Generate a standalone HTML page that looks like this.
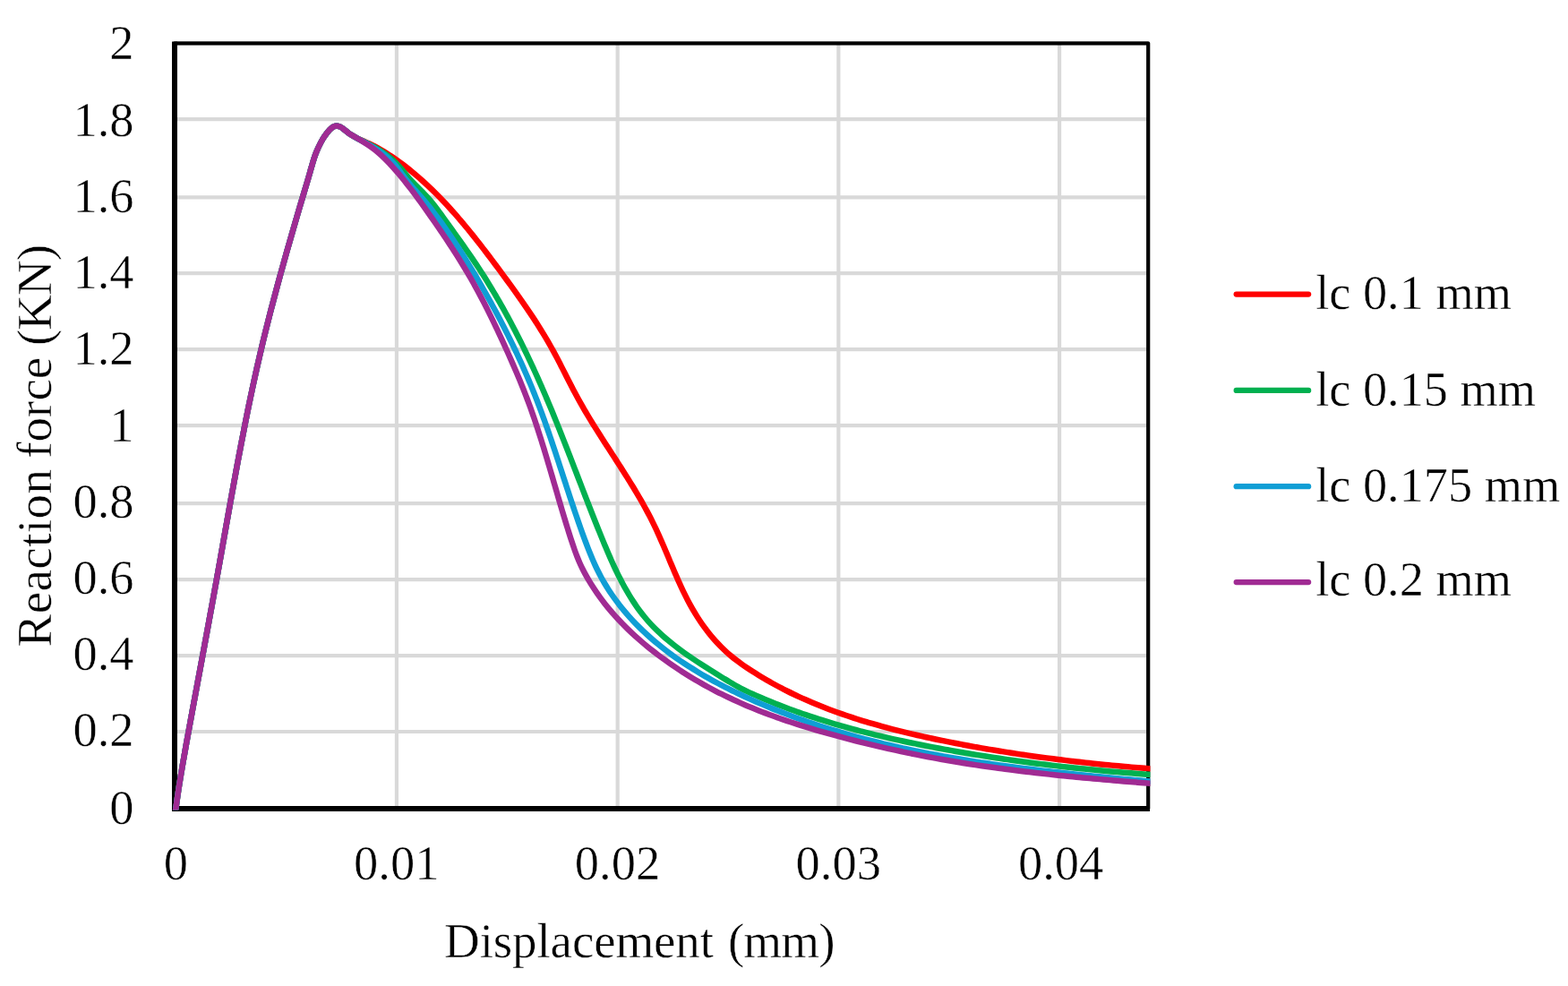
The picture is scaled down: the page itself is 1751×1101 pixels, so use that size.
<!DOCTYPE html>
<html lang="en">
<head>
<meta charset="utf-8">
<title>Reaction force vs displacement</title>
<style>
html,body{margin:0;padding:0;background:#fff;}
body{width:1751px;height:1101px;overflow:hidden;}
svg{display:block;font-family:"Liberation Serif",serif;fill:#000;}
text{stroke:#fff;stroke-width:0.5px;}
.tick{font-size:54.5px;}
.title{font-size:55px;}
.leg{font-size:54.3px;}
.grid line{stroke:#D9D9D9;stroke-width:4.2;}
.curve path{fill:none;stroke-width:6.5;stroke-linejoin:round;stroke-linecap:round;}
.key line{stroke-width:6.3;stroke-linecap:round;}
</style>
</head>
<body>
<svg width="1751" height="1101" viewBox="0 0 1751 1101">
<rect x="0" y="0" width="1751" height="1101" fill="#fff"/>
<defs><clipPath id="plot"><rect x="192" y="40" width="1092.5" height="864.4"/></clipPath></defs>

<g class="grid">
<line x1="195.0" y1="817.00" x2="1282.2" y2="817.00"/>
<line x1="195.0" y1="732.06" x2="1282.2" y2="732.06"/>
<line x1="195.0" y1="647.10" x2="1282.2" y2="647.10"/>
<line x1="195.0" y1="562.20" x2="1282.2" y2="562.20"/>
<line x1="195.0" y1="475.10" x2="1282.2" y2="475.10"/>
<line x1="195.0" y1="390.15" x2="1282.2" y2="390.15"/>
<line x1="195.0" y1="305.20" x2="1282.2" y2="305.20"/>
<line x1="195.0" y1="220.35" x2="1282.2" y2="220.35"/>
<line x1="195.0" y1="133.15" x2="1282.2" y2="133.15"/>
<line x1="442.94" y1="48.3" x2="442.94" y2="903.0"/>
<line x1="689.65" y1="48.3" x2="689.65" y2="903.0"/>
<line x1="936.35" y1="48.3" x2="936.35" y2="903.0"/>
<line x1="1183.06" y1="48.3" x2="1183.06" y2="903.0"/>
</g>
<rect x="195.00" y="48.30" width="1087.20" height="854.70" fill="none" stroke="#000" stroke-width="4.2" stroke-linejoin="round"/>
<line x1="195.00" y1="46.60" x2="195.00" y2="905.90" stroke="#000" stroke-width="6"/>
<line x1="192.50" y1="902.90" x2="1284.00" y2="902.90" stroke="#000" stroke-width="6"/>
<g class="curve" clip-path="url(#plot)">
<path stroke="#FF0000" d="M195.84 906.50C197.07 897.94 198.21 889.36 199.52 880.82C200.83 872.27 202.25 863.74 203.70 855.21C205.16 846.68 206.69 838.17 208.22 829.66C209.76 821.15 211.33 812.64 212.89 804.13C214.46 795.62 216.03 787.12 217.61 778.61C219.19 770.11 220.77 761.61 222.35 753.10C223.93 744.60 225.52 736.10 227.10 727.59C228.68 719.09 230.26 710.58 231.83 702.08C233.41 693.57 234.98 685.07 236.53 676.56C238.09 668.05 239.64 659.54 241.18 651.03C242.72 642.51 244.25 634.00 245.77 625.48C247.29 616.96 248.80 608.44 250.31 599.93C251.83 591.41 253.34 582.89 254.86 574.37C256.38 565.86 257.90 557.34 259.45 548.83C260.99 540.32 262.54 531.81 264.12 523.30C265.70 514.80 267.30 506.30 268.93 497.81C270.55 489.31 272.20 480.82 273.90 472.34C275.59 463.87 277.31 455.39 279.08 446.93C280.84 438.47 282.65 430.01 284.50 421.57C286.36 413.13 288.26 404.69 290.23 396.28C292.19 387.85 294.21 379.45 296.28 371.05C298.34 362.65 300.47 354.27 302.64 345.90C304.80 337.52 307.02 329.16 309.27 320.81C311.52 312.46 313.82 304.11 316.14 295.78C318.46 287.44 320.82 279.12 323.20 270.80C325.57 262.48 327.98 254.17 330.41 245.86C332.83 237.56 335.28 229.26 337.73 220.97C340.18 212.67 342.73 204.41 345.12 196.10C346.09 192.74 347.00 189.35 348.00 186.00C349.47 181.07 350.82 176.08 352.70 171.30C354.31 167.21 356.11 163.16 358.20 159.30C359.70 156.53 361.30 153.78 363.10 151.20C364.50 149.20 365.90 147.15 367.60 145.40C368.83 144.14 370.08 142.75 371.60 141.90C372.90 141.17 374.45 140.42 375.90 140.40C377.26 140.38 378.73 141.01 380.00 141.60C381.46 142.28 382.70 143.43 384.00 144.40C385.37 145.42 386.64 146.57 388.00 147.60C389.37 148.64 390.76 149.67 392.20 150.60C394.03 151.78 395.97 152.79 397.90 153.80C400.30 155.05 402.79 156.15 405.25 157.29C407.47 158.32 409.73 159.27 411.94 160.31C414.16 161.34 416.36 162.39 418.54 163.51C420.70 164.62 422.84 165.79 424.95 167.00C427.06 168.21 429.14 169.47 431.20 170.76C433.26 172.05 435.30 173.39 437.31 174.74C439.33 176.10 441.32 177.49 443.29 178.90C445.27 180.31 447.22 181.75 449.16 183.20C451.10 184.66 453.02 186.14 454.92 187.64C456.83 189.15 458.71 190.67 460.58 192.21C462.45 193.76 464.30 195.32 466.14 196.91C467.97 198.49 469.79 200.10 471.60 201.72C473.40 203.34 475.19 204.99 476.97 206.64C478.74 208.30 480.50 209.98 482.25 211.67C483.99 213.37 485.72 215.08 487.44 216.80C489.16 218.53 490.86 220.27 492.55 222.03C494.25 223.79 495.93 225.56 497.59 227.34C499.26 229.13 500.91 230.93 502.55 232.74C504.20 234.55 505.83 236.37 507.45 238.21C509.07 240.04 510.68 241.89 512.28 243.75C513.88 245.61 515.47 247.47 517.05 249.35C518.63 251.23 520.20 253.12 521.76 255.01C523.32 256.91 524.87 258.82 526.41 260.73C527.96 262.64 529.49 264.56 531.02 266.49C532.55 268.42 534.06 270.35 535.58 272.29C537.09 274.23 538.60 276.17 540.09 278.12C541.59 280.07 543.09 282.03 544.57 283.98C546.06 285.94 547.54 287.90 549.02 289.87C550.49 291.83 551.96 293.80 553.43 295.77C554.90 297.73 556.36 299.70 557.82 301.68C559.28 303.65 560.73 305.62 562.18 307.59C563.63 309.56 565.08 311.53 566.52 313.50C567.96 315.48 569.40 317.45 570.83 319.43C572.27 321.40 573.69 323.38 575.11 325.36C576.53 327.34 577.95 329.32 579.35 331.31C580.76 333.30 582.16 335.29 583.55 337.28C584.94 339.28 586.32 341.28 587.69 343.28C589.06 345.29 590.43 347.30 591.78 349.32C593.13 351.33 594.47 353.36 595.81 355.39C597.14 357.42 598.46 359.45 599.76 361.50C601.07 363.54 602.37 365.60 603.65 367.66C604.93 369.72 606.20 371.79 607.46 373.87C608.71 375.95 609.96 378.04 611.18 380.14C612.41 382.24 613.62 384.36 614.82 386.48C616.01 388.60 617.19 390.74 618.36 392.88C619.53 395.02 620.67 397.18 621.81 399.34C622.95 401.51 624.08 403.68 625.20 405.85C626.33 408.03 627.44 410.21 628.55 412.40C629.67 414.58 630.78 416.77 631.89 418.96C633.00 421.14 634.11 423.33 635.23 425.52C636.34 427.70 637.46 429.89 638.59 432.06C639.72 434.24 640.86 436.41 642.01 438.58C643.16 440.74 644.32 442.90 645.50 445.05C646.68 447.19 647.88 449.33 649.09 451.46C650.29 453.59 651.52 455.71 652.75 457.82C653.99 459.93 655.24 462.04 656.49 464.13C657.75 466.23 659.02 468.32 660.30 470.41C661.58 472.49 662.86 474.57 664.16 476.64C665.45 478.72 666.75 480.79 668.06 482.85C669.37 484.92 670.68 486.98 672.00 489.03C673.32 491.09 674.64 493.15 675.97 495.20C677.29 497.25 678.62 499.30 679.95 501.35C681.27 503.40 682.60 505.45 683.93 507.50C685.26 509.55 686.59 511.59 687.92 513.64C689.24 515.69 690.57 517.74 691.89 519.79C693.21 521.85 694.52 523.90 695.84 525.96C697.15 528.01 698.45 530.07 699.75 532.13C701.05 534.20 702.34 536.26 703.62 538.34C704.91 540.41 706.18 542.48 707.45 544.57C708.71 546.65 709.96 548.73 711.21 550.83C712.45 552.92 713.68 555.02 714.90 557.13C716.11 559.24 717.32 561.36 718.50 563.48C719.69 565.61 720.87 567.74 722.02 569.88C723.18 572.03 724.32 574.18 725.44 576.34C726.56 578.50 727.67 580.68 728.75 582.86C729.83 585.05 730.90 587.25 731.94 589.45C732.99 591.66 734.01 593.88 735.02 596.10C736.03 598.33 737.03 600.57 738.01 602.81C739.00 605.05 739.97 607.30 740.94 609.55C741.90 611.80 742.86 614.06 743.82 616.32C744.77 618.58 745.72 620.84 746.67 623.10C747.62 625.36 748.57 627.63 749.53 629.89C750.48 632.14 751.44 634.40 752.40 636.66C753.37 638.91 754.33 641.16 755.32 643.40C756.30 645.64 757.29 647.88 758.30 650.11C759.31 652.34 760.32 654.56 761.37 656.77C762.40 658.98 763.46 661.18 764.54 663.37C765.62 665.55 766.71 667.73 767.84 669.89C768.97 672.05 770.11 674.19 771.30 676.32C772.48 678.45 773.68 680.56 774.92 682.66C776.16 684.75 777.43 686.82 778.74 688.88C780.05 690.93 781.38 692.96 782.76 694.97C784.13 696.98 785.54 698.96 786.98 700.92C788.42 702.88 789.90 704.81 791.41 706.72C792.92 708.62 794.47 710.50 796.05 712.34C797.64 714.19 799.26 716.01 800.92 717.79C802.58 719.57 804.27 721.32 806.00 723.03C807.74 724.75 809.51 726.43 811.32 728.06C813.13 729.71 814.98 731.31 816.87 732.87C818.76 734.44 820.69 735.96 822.64 737.45C824.60 738.94 826.59 740.40 828.60 741.82C830.61 743.25 832.65 744.65 834.70 746.02C836.74 747.39 838.81 748.74 840.89 750.06C842.96 751.39 845.05 752.69 847.15 753.98C849.24 755.26 851.34 756.53 853.46 757.77C855.57 759.02 857.69 760.24 859.83 761.45C861.96 762.65 864.10 763.83 866.25 765.00C868.39 766.16 870.55 767.31 872.72 768.44C874.88 769.57 877.06 770.67 879.24 771.77C881.42 772.86 883.61 773.93 885.81 774.98C888.00 776.04 890.21 777.08 892.42 778.10C894.63 779.12 896.85 780.12 899.08 781.10C901.31 782.09 903.54 783.06 905.78 784.01C908.02 784.97 910.27 785.90 912.52 786.82C914.78 787.75 917.04 788.65 919.30 789.54C921.57 790.43 923.84 791.31 926.12 792.17C928.40 793.03 930.69 793.87 932.98 794.70C935.27 795.54 937.56 796.35 939.86 797.16C942.16 797.96 944.47 798.75 946.78 799.53C949.09 800.30 951.41 801.07 953.73 801.82C956.05 802.57 958.38 803.31 960.71 804.03C963.04 804.76 965.37 805.47 967.71 806.17C970.05 806.87 972.39 807.56 974.74 808.24C977.09 808.92 979.44 809.59 981.79 810.24C984.15 810.90 986.50 811.54 988.87 812.18C991.23 812.81 993.59 813.44 995.96 814.05C998.33 814.67 1000.70 815.27 1003.07 815.87C1005.44 816.47 1007.82 817.05 1010.20 817.63C1012.57 818.21 1014.95 818.78 1017.34 819.34C1019.72 819.90 1022.10 820.45 1024.49 821.00C1026.88 821.54 1029.26 822.08 1031.65 822.61C1034.04 823.14 1036.44 823.66 1038.83 824.17C1041.22 824.69 1043.61 825.20 1046.01 825.70C1048.40 826.20 1050.80 826.69 1053.20 827.18C1055.59 827.67 1057.99 828.16 1060.39 828.64C1062.78 829.11 1065.18 829.58 1067.58 830.05C1069.98 830.52 1072.38 830.98 1074.78 831.43C1077.18 831.88 1079.58 832.33 1081.99 832.78C1084.39 833.22 1086.79 833.65 1089.20 834.09C1091.60 834.52 1094.00 834.94 1096.41 835.36C1098.81 835.78 1101.22 836.20 1103.63 836.61C1106.03 837.02 1108.44 837.42 1110.85 837.82C1113.26 838.22 1115.67 838.61 1118.07 839.00C1120.48 839.39 1122.89 839.77 1125.31 840.15C1127.72 840.52 1130.13 840.90 1132.54 841.26C1134.95 841.63 1137.36 841.99 1139.78 842.35C1142.19 842.71 1144.61 843.06 1147.02 843.40C1149.44 843.75 1151.85 844.09 1154.27 844.43C1156.68 844.77 1159.10 845.10 1161.52 845.43C1163.94 845.76 1166.36 846.08 1168.77 846.40C1171.19 846.72 1173.61 847.03 1176.03 847.34C1178.45 847.65 1180.88 847.95 1183.30 848.25C1185.72 848.55 1188.14 848.85 1190.56 849.14C1192.99 849.43 1195.41 849.71 1197.83 850.00C1200.26 850.28 1202.68 850.56 1205.11 850.83C1207.54 851.10 1209.96 851.37 1212.39 851.64C1214.82 851.90 1217.24 852.17 1219.67 852.42C1222.10 852.68 1224.53 852.93 1226.96 853.18C1229.39 853.43 1231.82 853.68 1234.25 853.92C1236.68 854.16 1239.11 854.39 1241.54 854.63C1243.97 854.86 1246.40 855.09 1248.84 855.32C1251.27 855.54 1253.70 855.76 1256.14 855.98C1258.57 856.20 1261.01 856.42 1263.44 856.63C1265.88 856.84 1268.31 857.05 1270.75 857.25C1273.19 857.45 1275.63 857.66 1278.06 857.85C1280.50 858.05 1282.94 858.24 1285.38 858.43C1287.82 858.62 1290.26 858.81 1292.70 859.00C1295.14 859.18 1297.58 859.36 1300.02 859.54"/>
<path stroke="#00B050" d="M195.84 906.50C197.07 897.94 198.21 889.36 199.52 880.82C200.83 872.27 202.25 863.74 203.70 855.21C205.16 846.68 206.69 838.17 208.22 829.66C209.76 821.15 211.33 812.64 212.89 804.13C214.46 795.62 216.03 787.12 217.61 778.61C219.19 770.11 220.77 761.61 222.35 753.10C223.93 744.60 225.52 736.10 227.10 727.59C228.68 719.09 230.26 710.58 231.83 702.08C233.41 693.57 234.98 685.07 236.53 676.56C238.09 668.05 239.64 659.54 241.18 651.03C242.72 642.51 244.25 634.00 245.77 625.48C247.29 616.96 248.80 608.44 250.31 599.93C251.83 591.41 253.34 582.89 254.86 574.37C256.38 565.86 257.90 557.34 259.45 548.83C260.99 540.32 262.54 531.81 264.12 523.30C265.70 514.80 267.30 506.30 268.93 497.81C270.55 489.31 272.20 480.82 273.90 472.34C275.59 463.87 277.31 455.39 279.08 446.93C280.84 438.47 282.65 430.01 284.50 421.57C286.36 413.13 288.26 404.69 290.23 396.28C292.19 387.85 294.21 379.45 296.28 371.05C298.34 362.65 300.47 354.27 302.64 345.90C304.80 337.52 307.02 329.16 309.27 320.81C311.52 312.46 313.82 304.11 316.14 295.78C318.46 287.44 320.82 279.12 323.20 270.80C325.57 262.48 327.98 254.17 330.41 245.86C332.83 237.56 335.28 229.26 337.73 220.97C340.18 212.67 342.73 204.41 345.12 196.10C346.09 192.74 347.00 189.35 348.00 186.00C349.47 181.07 350.82 176.08 352.70 171.30C354.31 167.21 356.11 163.16 358.20 159.30C359.70 156.53 361.30 153.78 363.10 151.20C364.50 149.20 365.90 147.15 367.60 145.40C368.83 144.14 370.08 142.75 371.60 141.90C372.90 141.17 374.45 140.42 375.90 140.40C377.26 140.38 378.73 141.01 380.00 141.60C381.46 142.28 382.70 143.43 384.00 144.40C385.37 145.42 386.64 146.57 388.00 147.60C389.37 148.64 390.76 149.67 392.20 150.60C394.03 151.78 395.98 152.76 397.90 153.80C400.37 155.14 402.89 156.38 405.39 157.66C407.61 158.79 409.86 159.89 412.07 161.05C414.29 162.20 416.51 163.36 418.68 164.59C420.85 165.81 423.00 167.08 425.11 168.41C427.20 169.74 429.26 171.11 431.26 172.57C433.25 174.02 435.21 175.54 437.07 177.14C438.94 178.74 440.73 180.43 442.45 182.18C444.17 183.94 445.77 185.82 447.38 187.69C448.99 189.56 450.51 191.52 452.11 193.41C453.70 195.31 455.28 197.22 456.94 199.06C458.59 200.91 460.30 202.70 462.01 204.48C463.73 206.27 465.49 208.02 467.22 209.78C468.96 211.55 470.72 213.30 472.44 215.09C474.15 216.88 475.87 218.67 477.52 220.52C479.17 222.37 480.78 224.27 482.36 226.19C483.93 228.11 485.46 230.08 486.98 232.05C488.50 234.03 489.98 236.04 491.46 238.04C492.94 240.05 494.39 242.08 495.86 244.10C497.32 246.12 498.78 248.15 500.24 250.17C501.69 252.19 503.15 254.21 504.61 256.23C506.06 258.25 507.51 260.27 508.96 262.30C510.40 264.32 511.85 266.34 513.28 268.37C514.72 270.40 516.15 272.43 517.58 274.46C519.01 276.49 520.43 278.52 521.84 280.57C523.26 282.60 524.66 284.65 526.06 286.70C527.46 288.75 528.85 290.80 530.24 292.86C531.62 294.92 532.99 296.99 534.35 299.06C535.72 301.14 537.07 303.22 538.41 305.31C539.76 307.40 541.09 309.49 542.41 311.60C543.73 313.70 545.04 315.81 546.34 317.93C547.64 320.05 548.92 322.18 550.20 324.31C551.48 326.45 552.75 328.59 554.01 330.74C555.26 332.89 556.51 335.04 557.75 337.20C558.99 339.37 560.21 341.53 561.43 343.71C562.65 345.88 563.86 348.06 565.06 350.25C566.26 352.43 567.44 354.63 568.62 356.82C569.80 359.02 570.97 361.22 572.13 363.43C573.30 365.64 574.45 367.85 575.59 370.07C576.73 372.29 577.87 374.51 578.99 376.74C580.12 378.97 581.24 381.20 582.34 383.44C583.45 385.67 584.55 387.91 585.64 390.16C586.74 392.40 587.82 394.65 588.89 396.90C589.97 399.16 591.04 401.41 592.09 403.67C593.15 405.93 594.20 408.19 595.25 410.46C596.29 412.72 597.33 414.99 598.35 417.26C599.38 419.53 600.40 421.81 601.42 424.09C602.43 426.36 603.43 428.64 604.43 430.92C605.43 433.20 606.42 435.48 607.41 437.77C608.39 440.05 609.37 442.34 610.34 444.63C611.31 446.92 612.28 449.21 613.24 451.50C614.20 453.79 615.15 456.08 616.10 458.37C617.04 460.67 617.98 462.96 618.92 465.26C619.86 467.55 620.79 469.85 621.71 472.15C622.64 474.45 623.56 476.75 624.48 479.05C625.40 481.35 626.31 483.65 627.22 485.95C628.14 488.26 629.04 490.56 629.95 492.87C630.85 495.17 631.75 497.48 632.65 499.79C633.55 502.09 634.45 504.40 635.35 506.71C636.24 509.02 637.14 511.33 638.03 513.64C638.92 515.95 639.82 518.27 640.71 520.58C641.60 522.89 642.49 525.21 643.38 527.52C644.27 529.84 645.16 532.15 646.05 534.47C646.94 536.78 647.83 539.10 648.73 541.42C649.62 543.74 650.51 546.05 651.41 548.37C652.30 550.69 653.20 553.01 654.10 555.33C655.00 557.65 655.90 559.97 656.80 562.29C657.71 564.61 658.62 566.94 659.53 569.26C660.44 571.58 661.35 573.90 662.27 576.22C663.18 578.55 664.11 580.87 665.03 583.19C665.96 585.52 666.89 587.84 667.82 590.17C668.76 592.49 669.70 594.82 670.64 597.14C671.59 599.47 672.54 601.79 673.49 604.11C674.45 606.44 675.41 608.76 676.39 611.08C677.36 613.40 678.35 615.72 679.34 618.03C680.34 620.34 681.35 622.64 682.37 624.94C683.39 627.23 684.43 629.52 685.48 631.80C686.54 634.08 687.61 636.34 688.70 638.60C689.79 640.85 690.90 643.09 692.03 645.32C693.16 647.54 694.32 649.75 695.50 651.95C696.67 654.14 697.87 656.32 699.11 658.47C700.33 660.62 701.59 662.76 702.88 664.88C704.16 666.99 705.47 669.08 706.82 671.15C708.17 673.21 709.55 675.25 710.96 677.27C712.37 679.28 713.82 681.27 715.30 683.23C716.78 685.18 718.30 687.12 719.86 689.01C721.42 690.91 723.02 692.77 724.66 694.60C726.30 696.44 727.98 698.23 729.70 700.00C731.42 701.77 733.18 703.50 734.96 705.20C736.75 706.91 738.58 708.58 740.43 710.23C742.29 711.88 744.18 713.49 746.09 715.09C748.00 716.68 749.94 718.25 751.90 719.79C753.87 721.34 755.86 722.86 757.86 724.36C759.87 725.87 761.90 727.34 763.94 728.80C765.98 730.27 768.04 731.71 770.12 733.13C772.19 734.56 774.27 735.97 776.37 737.36C778.46 738.76 780.57 740.13 782.68 741.50C784.78 742.87 786.90 744.22 789.02 745.57C791.13 746.91 793.25 748.25 795.37 749.58C797.48 750.90 799.60 752.22 801.72 753.53C803.82 754.84 805.93 756.15 808.04 757.45C810.14 758.74 812.24 760.04 814.35 761.30C816.47 762.56 818.58 763.82 820.73 765.03C822.87 766.25 825.03 767.44 827.22 768.58C829.42 769.73 831.64 770.83 833.88 771.90C836.13 772.97 838.41 774.00 840.69 775.02C842.96 776.04 845.25 777.05 847.53 778.04C849.82 779.03 852.11 780.01 854.41 780.98C856.71 781.94 859.01 782.90 861.32 783.83C863.63 784.77 865.94 785.70 868.26 786.61C870.57 787.52 872.89 788.42 875.22 789.31C877.54 790.20 879.87 791.07 882.21 791.93C884.54 792.79 886.88 793.64 889.22 794.48C891.56 795.32 893.91 796.14 896.26 796.95C898.61 797.77 900.96 798.57 903.32 799.36C905.68 800.15 908.04 800.93 910.41 801.70C912.77 802.46 915.14 803.22 917.51 803.96C919.88 804.71 922.26 805.44 924.64 806.17C927.02 806.89 929.40 807.61 931.79 808.31C934.17 809.01 936.56 809.71 938.95 810.39C941.34 811.07 943.74 811.75 946.14 812.41C948.53 813.07 950.93 813.73 953.34 814.37C955.74 815.02 958.15 815.65 960.55 816.28C962.96 816.91 965.37 817.53 967.79 818.13C970.20 818.74 972.62 819.34 975.03 819.94C977.45 820.53 979.87 821.11 982.30 821.69C984.72 822.26 987.14 822.83 989.57 823.39C992.00 823.95 994.42 824.50 996.85 825.05C999.29 825.59 1001.72 826.13 1004.15 826.66C1006.59 827.19 1009.02 827.71 1011.46 828.23C1013.90 828.74 1016.33 829.25 1018.77 829.76C1021.21 830.26 1023.66 830.76 1026.10 831.25C1028.54 831.74 1030.98 832.22 1033.43 832.70C1035.87 833.18 1038.32 833.65 1040.77 834.11C1043.21 834.58 1045.66 835.04 1048.11 835.50C1050.56 835.95 1053.01 836.40 1055.46 836.85C1057.91 837.29 1060.36 837.74 1062.81 838.17C1065.26 838.61 1067.72 839.04 1070.17 839.46C1072.62 839.89 1075.08 840.31 1077.53 840.72C1079.98 841.14 1082.44 841.55 1084.90 841.95C1087.35 842.36 1089.81 842.76 1092.26 843.15C1094.72 843.55 1097.18 843.94 1099.64 844.32C1102.10 844.71 1104.56 845.09 1107.02 845.46C1109.48 845.84 1111.94 846.21 1114.40 846.58C1116.86 846.95 1119.32 847.31 1121.78 847.66C1124.24 848.02 1126.71 848.37 1129.17 848.72C1131.64 849.07 1134.10 849.41 1136.56 849.75C1139.03 850.09 1141.49 850.42 1143.96 850.75C1146.43 851.08 1148.89 851.41 1151.36 851.73C1153.83 852.05 1156.30 852.36 1158.76 852.68C1161.23 852.99 1163.70 853.29 1166.17 853.60C1168.64 853.90 1171.11 854.20 1173.58 854.49C1176.05 854.79 1178.52 855.08 1181.00 855.36C1183.47 855.65 1185.94 855.93 1188.41 856.21C1190.89 856.48 1193.36 856.76 1195.83 857.03C1198.31 857.29 1200.78 857.56 1203.26 857.82C1205.73 858.08 1208.21 858.34 1210.68 858.59C1213.16 858.84 1215.64 859.09 1218.11 859.33C1220.59 859.58 1223.07 859.82 1225.54 860.05C1228.02 860.29 1230.50 860.52 1232.98 860.75C1235.46 860.98 1237.94 861.21 1240.42 861.43C1242.90 861.65 1245.38 861.86 1247.86 862.08C1250.34 862.29 1252.82 862.50 1255.30 862.71C1257.78 862.91 1260.27 863.11 1262.75 863.31C1265.23 863.51 1267.71 863.70 1270.20 863.89C1272.68 864.09 1275.16 864.27 1277.65 864.46C1280.13 864.64 1282.62 864.82 1285.10 865.00C1287.58 865.17 1290.07 865.35 1292.56 865.52C1295.04 865.69 1297.53 865.85 1300.01 866.01"/>
<path stroke="#0F9ED5" d="M195.84 906.50C197.07 897.94 198.21 889.36 199.52 880.82C200.83 872.27 202.25 863.74 203.70 855.21C205.16 846.68 206.69 838.17 208.22 829.66C209.76 821.15 211.33 812.64 212.89 804.13C214.46 795.62 216.03 787.12 217.61 778.61C219.19 770.11 220.77 761.61 222.35 753.10C223.93 744.60 225.52 736.10 227.10 727.59C228.68 719.09 230.26 710.58 231.83 702.08C233.41 693.57 234.98 685.07 236.53 676.56C238.09 668.05 239.64 659.54 241.18 651.03C242.72 642.51 244.25 634.00 245.77 625.48C247.29 616.96 248.80 608.44 250.31 599.93C251.83 591.41 253.34 582.89 254.86 574.37C256.38 565.86 257.90 557.34 259.45 548.83C260.99 540.32 262.54 531.81 264.12 523.30C265.70 514.80 267.30 506.30 268.93 497.81C270.55 489.31 272.20 480.82 273.90 472.34C275.59 463.87 277.31 455.39 279.08 446.93C280.84 438.47 282.65 430.01 284.50 421.57C286.36 413.13 288.26 404.69 290.23 396.28C292.19 387.85 294.21 379.45 296.28 371.05C298.34 362.65 300.47 354.27 302.64 345.90C304.80 337.52 307.02 329.16 309.27 320.81C311.52 312.46 313.82 304.11 316.14 295.78C318.46 287.44 320.82 279.12 323.20 270.80C325.57 262.48 327.98 254.17 330.41 245.86C332.83 237.56 335.28 229.26 337.73 220.97C340.18 212.67 342.73 204.41 345.12 196.10C346.09 192.74 347.00 189.35 348.00 186.00C349.47 181.07 350.82 176.08 352.70 171.30C354.31 167.21 356.11 163.16 358.20 159.30C359.70 156.53 361.30 153.78 363.10 151.20C364.50 149.20 365.90 147.15 367.60 145.40C368.83 144.14 370.08 142.75 371.60 141.90C372.90 141.17 374.45 140.42 375.90 140.40C377.26 140.38 378.73 141.01 380.00 141.60C381.46 142.28 382.70 143.43 384.00 144.40C385.37 145.42 386.64 146.57 388.00 147.60C389.37 148.64 390.76 149.67 392.20 150.60C394.03 151.78 395.99 152.74 397.90 153.80C400.39 155.18 402.90 156.50 405.40 157.87C407.60 159.08 409.82 160.28 412.00 161.53C414.19 162.78 416.37 164.05 418.51 165.39C420.64 166.72 422.76 168.09 424.81 169.54C426.86 170.98 428.88 172.48 430.81 174.06C432.74 175.62 434.62 177.25 436.40 178.98C438.17 180.69 439.87 182.49 441.46 184.36C443.06 186.24 444.50 188.24 445.96 190.22C447.43 192.21 448.79 194.27 450.26 196.26C451.74 198.25 453.24 200.21 454.80 202.14C456.36 204.07 457.99 205.96 459.61 207.84C461.25 209.72 462.92 211.58 464.58 213.44C466.24 215.32 467.93 217.18 469.57 219.07C471.22 220.96 472.86 222.86 474.47 224.79C476.08 226.72 477.67 228.68 479.24 230.64C480.81 232.61 482.36 234.60 483.89 236.60C485.42 238.60 486.93 240.61 488.43 242.63C489.93 244.66 491.41 246.69 492.88 248.73C494.34 250.77 495.80 252.82 497.24 254.88C498.67 256.93 500.10 259.00 501.51 261.07C502.93 263.14 504.33 265.22 505.71 267.31C507.10 269.39 508.48 271.49 509.84 273.59C511.21 275.69 512.56 277.79 513.91 279.91C515.25 282.02 516.59 284.14 517.91 286.26C519.24 288.39 520.55 290.52 521.86 292.65C523.17 294.79 524.47 296.93 525.76 299.07C527.05 301.22 528.34 303.37 529.62 305.52C530.90 307.68 532.17 309.84 533.44 312.00C534.70 314.16 535.96 316.33 537.22 318.50C538.47 320.67 539.72 322.85 540.95 325.03C542.19 327.21 543.43 329.40 544.65 331.59C545.87 333.78 547.09 335.97 548.30 338.17C549.51 340.37 550.71 342.57 551.91 344.78C553.10 346.98 554.29 349.19 555.47 351.41C556.65 353.63 557.82 355.85 558.98 358.07C560.14 360.30 561.30 362.52 562.44 364.76C563.59 366.99 564.72 369.23 565.85 371.47C566.98 373.71 568.10 375.96 569.21 378.21C570.32 380.46 571.42 382.72 572.52 384.98C573.61 387.24 574.69 389.50 575.77 391.77C576.84 394.04 577.90 396.31 578.96 398.59C580.01 400.87 581.06 403.15 582.09 405.43C583.13 407.72 584.15 410.01 585.17 412.31C586.18 414.60 587.19 416.90 588.18 419.21C589.18 421.51 590.16 423.82 591.13 426.13C592.11 428.44 593.07 430.76 594.02 433.08C594.97 435.40 595.91 437.73 596.84 440.06C597.77 442.39 598.69 444.72 599.60 447.06C600.50 449.40 601.40 451.75 602.29 454.09C603.17 456.44 604.05 458.79 604.92 461.15C605.78 463.50 606.64 465.86 607.49 468.22C608.34 470.58 609.18 472.95 610.02 475.31C610.85 477.68 611.68 480.05 612.50 482.42C613.32 484.80 614.13 487.17 614.94 489.55C615.75 491.92 616.56 494.30 617.36 496.68C618.16 499.06 618.95 501.44 619.74 503.83C620.53 506.21 621.32 508.59 622.10 510.98C622.89 513.36 623.67 515.75 624.45 518.14C625.23 520.52 626.01 522.91 626.79 525.30C627.57 527.68 628.34 530.07 629.12 532.46C629.90 534.84 630.68 537.23 631.45 539.62C632.23 542.00 633.01 544.39 633.79 546.77C634.57 549.15 635.36 551.54 636.14 553.92C636.93 556.30 637.72 558.68 638.51 561.06C639.30 563.43 640.10 565.81 640.90 568.19C641.70 570.56 642.50 572.93 643.32 575.30C644.13 577.67 644.94 580.04 645.77 582.40C646.59 584.76 647.42 587.12 648.26 589.48C649.09 591.84 649.94 594.19 650.79 596.54C651.64 598.89 652.50 601.24 653.37 603.58C654.25 605.92 655.13 608.26 656.03 610.59C656.93 612.92 657.84 615.24 658.78 617.55C659.72 619.87 660.68 622.17 661.67 624.46C662.66 626.75 663.67 629.03 664.71 631.30C665.76 633.57 666.83 635.82 667.95 638.05C669.07 640.29 670.21 642.51 671.41 644.71C672.60 646.92 673.84 649.10 675.11 651.26C676.39 653.43 677.71 655.57 679.07 657.69C680.43 659.82 681.83 661.92 683.26 664.00C684.69 666.08 686.16 668.14 687.66 670.18C689.16 672.21 690.70 674.22 692.26 676.21C693.83 678.20 695.42 680.16 697.05 682.10C698.67 684.04 700.32 685.95 701.99 687.84C703.66 689.73 705.36 691.59 707.09 693.42C708.81 695.25 710.55 697.06 712.32 698.85C714.09 700.63 715.88 702.38 717.69 704.12C719.50 705.85 721.33 707.56 723.19 709.24C725.04 710.92 726.91 712.58 728.80 714.22C730.70 715.85 732.61 717.47 734.54 719.06C736.47 720.65 738.42 722.21 740.39 723.76C742.36 725.30 744.34 726.82 746.34 728.33C748.34 729.83 750.36 731.31 752.40 732.77C754.43 734.23 756.48 735.66 758.55 737.08C760.61 738.50 762.69 739.90 764.78 741.28C766.88 742.66 768.98 744.01 771.10 745.35C773.22 746.70 775.36 748.02 777.50 749.32C779.65 750.63 781.80 751.91 783.97 753.18C786.14 754.45 788.32 755.70 790.51 756.93C792.70 758.17 794.90 759.38 797.10 760.58C799.31 761.78 801.53 762.97 803.76 764.14C805.98 765.31 808.22 766.46 810.46 767.60C812.70 768.74 814.95 769.87 817.20 770.98C819.45 772.09 821.72 773.18 823.98 774.27C826.25 775.35 828.52 776.42 830.80 777.48C833.07 778.53 835.35 779.58 837.64 780.61C839.93 781.64 842.22 782.66 844.51 783.66C846.81 784.67 849.11 785.66 851.41 786.64C853.72 787.62 856.03 788.59 858.34 789.55C860.65 790.50 862.97 791.45 865.29 792.38C867.61 793.31 869.94 794.23 872.27 795.14C874.60 796.05 876.93 796.94 879.27 797.83C881.61 798.71 883.95 799.59 886.30 800.45C888.65 801.31 891.00 802.16 893.35 803.00C895.71 803.84 898.06 804.67 900.43 805.49C902.79 806.31 905.15 807.11 907.52 807.91C909.89 808.70 912.27 809.49 914.64 810.26C917.02 811.04 919.40 811.80 921.78 812.56C924.17 813.31 926.55 814.05 928.94 814.79C931.34 815.52 933.73 816.24 936.13 816.95C938.52 817.67 940.92 818.37 943.33 819.06C945.73 819.76 948.14 820.44 950.55 821.12C952.96 821.79 955.37 822.45 957.79 823.11C960.20 823.76 962.62 824.41 965.04 825.05C967.46 825.68 969.89 826.31 972.31 826.93C974.74 827.55 977.17 828.16 979.60 828.76C982.04 829.36 984.47 829.95 986.91 830.54C989.35 831.12 991.79 831.70 994.23 832.26C996.67 832.83 999.12 833.39 1001.56 833.94C1004.01 834.49 1006.46 835.03 1008.91 835.57C1011.37 836.10 1013.82 836.63 1016.28 837.15C1018.73 837.67 1021.19 838.18 1023.65 838.68C1026.11 839.18 1028.57 839.68 1031.04 840.17C1033.50 840.66 1035.97 841.14 1038.44 841.61C1040.90 842.09 1043.37 842.56 1045.84 843.02C1048.32 843.48 1050.79 843.93 1053.26 844.38C1055.74 844.82 1058.22 845.26 1060.69 845.70C1063.17 846.13 1065.65 846.56 1068.13 846.98C1070.61 847.40 1073.10 847.81 1075.58 848.22C1078.06 848.63 1080.55 849.03 1083.03 849.43C1085.52 849.83 1088.01 850.22 1090.49 850.60C1092.98 850.99 1095.47 851.36 1097.96 851.74C1100.45 852.11 1102.94 852.48 1105.44 852.84C1107.93 853.20 1110.42 853.56 1112.92 853.91C1115.41 854.27 1117.91 854.61 1120.40 854.96C1122.90 855.30 1125.39 855.64 1127.89 855.97C1130.39 856.30 1132.88 856.63 1135.38 856.95C1137.88 857.28 1140.38 857.60 1142.87 857.91C1145.37 858.23 1147.87 858.54 1150.37 858.84C1152.87 859.15 1155.37 859.45 1157.87 859.75C1160.37 860.05 1162.87 860.34 1165.37 860.64C1167.87 860.93 1170.37 861.21 1172.87 861.50C1175.37 861.78 1177.87 862.06 1180.37 862.34C1182.87 862.62 1185.37 862.89 1187.87 863.16C1190.37 863.43 1192.86 863.70 1195.36 863.96C1197.86 864.23 1200.36 864.49 1202.86 864.75C1205.36 865.01 1207.85 865.27 1210.35 865.52C1212.85 865.77 1215.34 866.03 1217.84 866.27C1220.34 866.52 1222.83 866.77 1225.33 867.02C1227.82 867.26 1230.31 867.50 1232.81 867.75C1235.30 867.99 1237.79 868.23 1240.28 868.46C1242.77 868.70 1245.26 868.94 1247.75 869.17C1250.24 869.41 1252.73 869.64 1255.21 869.87C1257.70 870.10 1260.18 870.33 1262.67 870.56C1265.15 870.79 1267.64 871.02 1270.12 871.25C1272.60 871.48 1275.08 871.70 1277.56 871.93C1280.04 872.16 1282.51 872.38 1284.99 872.61C1287.46 872.83 1289.94 873.06 1292.41 873.28C1294.88 873.50 1297.35 873.73 1299.82 873.95"/>
<path stroke="#A02B93" d="M195.84 906.50C197.07 897.94 198.21 889.36 199.52 880.82C200.83 872.27 202.25 863.74 203.70 855.21C205.16 846.68 206.69 838.17 208.22 829.66C209.76 821.15 211.33 812.64 212.89 804.13C214.46 795.62 216.03 787.12 217.61 778.61C219.19 770.11 220.77 761.61 222.35 753.10C223.93 744.60 225.52 736.10 227.10 727.59C228.68 719.09 230.26 710.58 231.83 702.08C233.41 693.57 234.98 685.07 236.53 676.56C238.09 668.05 239.64 659.54 241.18 651.03C242.72 642.51 244.25 634.00 245.77 625.48C247.29 616.96 248.80 608.44 250.31 599.93C251.83 591.41 253.34 582.89 254.86 574.37C256.38 565.86 257.90 557.34 259.45 548.83C260.99 540.32 262.54 531.81 264.12 523.30C265.70 514.80 267.30 506.30 268.93 497.81C270.55 489.31 272.20 480.82 273.90 472.34C275.59 463.87 277.31 455.39 279.08 446.93C280.84 438.47 282.65 430.01 284.50 421.57C286.36 413.13 288.26 404.69 290.23 396.28C292.19 387.85 294.21 379.45 296.28 371.05C298.34 362.65 300.47 354.27 302.64 345.90C304.80 337.52 307.02 329.16 309.27 320.81C311.52 312.46 313.82 304.11 316.14 295.78C318.46 287.44 320.82 279.12 323.20 270.80C325.57 262.48 327.98 254.17 330.41 245.86C332.83 237.56 335.28 229.26 337.73 220.97C340.18 212.67 342.73 204.41 345.12 196.10C346.09 192.74 347.00 189.35 348.00 186.00C349.47 181.07 350.82 176.08 352.70 171.30C354.31 167.21 356.11 163.16 358.20 159.30C359.70 156.53 361.30 153.78 363.10 151.20C364.50 149.20 365.90 147.15 367.60 145.40C368.83 144.14 370.08 142.75 371.60 141.90C372.90 141.17 374.45 140.42 375.90 140.40C377.26 140.38 378.73 141.01 380.00 141.60C381.46 142.28 382.70 143.43 384.00 144.40C385.37 145.42 386.64 146.57 388.00 147.60C389.37 148.64 390.76 149.67 392.20 150.60C394.03 151.78 396.01 152.72 397.90 153.80C400.40 155.23 402.91 156.66 405.36 158.17C407.52 159.50 409.67 160.84 411.76 162.27C413.83 163.69 415.88 165.17 417.87 166.71C419.85 168.25 421.77 169.86 423.66 171.51C425.54 173.16 427.37 174.87 429.17 176.62C430.97 178.36 432.72 180.16 434.44 181.98C436.17 183.80 437.86 185.66 439.53 187.54C441.20 189.41 442.85 191.32 444.48 193.23C446.11 195.15 447.72 197.09 449.31 199.03C450.91 200.98 452.48 202.94 454.05 204.92C455.61 206.90 457.16 208.89 458.69 210.88C460.23 212.89 461.75 214.90 463.26 216.92C464.77 218.94 466.27 220.97 467.76 223.01C469.25 225.05 470.73 227.10 472.20 229.15C473.67 231.21 475.14 233.27 476.59 235.33C478.05 237.40 479.50 239.47 480.95 241.54C482.39 243.62 483.83 245.69 485.27 247.77C486.71 249.85 488.14 251.93 489.57 254.01C491.00 256.10 492.42 258.18 493.84 260.27C495.25 262.36 496.67 264.46 498.07 266.56C499.47 268.66 500.87 270.76 502.25 272.87C503.64 274.98 505.02 277.09 506.39 279.21C507.75 281.33 509.11 283.45 510.46 285.58C511.81 287.71 513.15 289.85 514.47 291.99C515.80 294.13 517.11 296.28 518.42 298.44C519.72 300.60 521.01 302.76 522.28 304.94C523.56 307.11 524.82 309.29 526.07 311.48C527.32 313.67 528.55 315.87 529.78 318.07C531.00 320.27 532.21 322.48 533.41 324.70C534.61 326.92 535.80 329.14 536.97 331.37C538.15 333.60 539.31 335.84 540.47 338.08C541.63 340.32 542.77 342.57 543.91 344.82C545.04 347.08 546.17 349.34 547.29 351.60C548.40 353.86 549.51 356.13 550.61 358.40C551.71 360.67 552.81 362.95 553.89 365.23C554.98 367.51 556.05 369.79 557.13 372.08C558.20 374.37 559.26 376.66 560.32 378.95C561.38 381.24 562.43 383.54 563.48 385.84C564.53 388.14 565.57 390.44 566.61 392.74C567.64 395.04 568.68 397.35 569.70 399.66C570.73 401.96 571.75 404.27 572.76 406.59C573.77 408.90 574.77 411.22 575.77 413.54C576.76 415.86 577.75 418.18 578.73 420.51C579.70 422.83 580.67 425.17 581.63 427.50C582.58 429.84 583.53 432.17 584.46 434.52C585.39 436.86 586.31 439.21 587.21 441.56C588.12 443.92 589.01 446.27 589.89 448.64C590.77 451.00 591.63 453.37 592.49 455.74C593.34 458.11 594.18 460.49 595.01 462.87C595.84 465.25 596.66 467.64 597.47 470.03C598.27 472.42 599.07 474.81 599.86 477.20C600.65 479.60 601.43 482.00 602.20 484.40C602.97 486.80 603.73 489.21 604.49 491.62C605.24 494.02 605.99 496.44 606.74 498.85C607.48 501.26 608.21 503.67 608.94 506.09C609.68 508.51 610.40 510.93 611.12 513.35C611.85 515.77 612.56 518.19 613.28 520.61C613.99 523.03 614.70 525.45 615.41 527.88C616.12 530.30 616.83 532.73 617.54 535.15C618.25 537.58 618.95 540.00 619.66 542.43C620.36 544.85 621.07 547.28 621.78 549.70C622.48 552.12 623.19 554.55 623.90 556.97C624.61 559.39 625.32 561.82 626.04 564.24C626.75 566.66 627.47 569.08 628.19 571.50C628.91 573.92 629.64 576.33 630.37 578.75C631.10 581.16 631.84 583.57 632.58 585.98C633.33 588.39 634.08 590.80 634.83 593.21C635.59 595.61 636.35 598.01 637.12 600.41C637.90 602.81 638.67 605.21 639.47 607.60C640.27 609.98 641.08 612.36 641.93 614.73C642.77 617.09 643.64 619.45 644.56 621.78C645.48 624.11 646.44 626.43 647.46 628.71C648.48 631.00 649.55 633.26 650.67 635.50C651.79 637.74 652.96 639.96 654.16 642.15C655.37 644.35 656.63 646.53 657.91 648.69C659.20 650.85 660.53 652.99 661.90 655.11C663.26 657.23 664.66 659.34 666.10 661.42C667.53 663.50 669.01 665.56 670.50 667.60C672.01 669.64 673.54 671.66 675.10 673.66C676.66 675.66 678.26 677.63 679.87 679.58C681.49 681.54 683.14 683.47 684.81 685.37C686.48 687.28 688.17 689.16 689.89 691.02C691.61 692.88 693.35 694.71 695.11 696.52C696.86 698.33 698.64 700.11 700.44 701.87C702.24 703.63 704.06 705.37 705.90 707.08C707.74 708.79 709.59 710.49 711.47 712.16C713.34 713.83 715.24 715.47 717.15 717.10C719.05 718.73 720.98 720.34 722.93 721.92C724.87 723.51 726.83 725.08 728.81 726.63C730.78 728.18 732.78 729.72 734.78 731.23C736.79 732.75 738.82 734.25 740.85 735.73C742.89 737.21 744.94 738.68 747.01 740.13C749.07 741.58 751.15 743.01 753.24 744.42C755.34 745.84 757.44 747.23 759.56 748.61C761.68 749.99 763.81 751.35 765.95 752.70C768.10 754.04 770.25 755.37 772.42 756.68C774.59 757.99 776.76 759.28 778.95 760.55C781.14 761.82 783.34 763.08 785.55 764.32C787.76 765.55 789.97 766.77 792.20 767.98C794.43 769.18 796.67 770.36 798.91 771.53C801.16 772.69 803.41 773.84 805.68 774.96C807.94 776.09 810.21 777.20 812.49 778.29C814.77 779.38 817.05 780.46 819.35 781.51C821.64 782.57 823.94 783.61 826.25 784.63C828.56 785.65 830.87 786.66 833.19 787.65C835.51 788.63 837.84 789.61 840.17 790.56C842.51 791.52 844.85 792.46 847.19 793.39C849.54 794.32 851.89 795.23 854.25 796.13C856.60 797.03 858.97 797.91 861.34 798.78C863.70 799.65 866.08 800.51 868.45 801.35C870.83 802.20 873.22 803.03 875.60 803.84C877.99 804.66 880.38 805.47 882.78 806.26C885.17 807.06 887.57 807.84 889.98 808.61C892.38 809.39 894.79 810.15 897.20 810.90C899.61 811.65 902.03 812.39 904.45 813.12C906.86 813.85 909.28 814.57 911.71 815.28C914.13 816.00 916.56 816.70 918.99 817.39C921.42 818.09 923.85 818.77 926.28 819.45C928.72 820.13 931.15 820.80 933.59 821.46C936.03 822.13 938.47 822.78 940.91 823.43C943.35 824.08 945.79 824.73 948.24 825.36C950.68 826.00 953.12 826.63 955.57 827.25C958.02 827.87 960.47 828.48 962.92 829.09C965.37 829.70 967.82 830.30 970.27 830.90C972.73 831.49 975.18 832.08 977.64 832.66C980.10 833.24 982.55 833.81 985.01 834.38C987.47 834.94 989.93 835.50 992.40 836.06C994.86 836.61 997.32 837.15 999.79 837.69C1002.25 838.23 1004.72 838.76 1007.19 839.29C1009.66 839.81 1012.13 840.33 1014.60 840.84C1017.07 841.35 1019.54 841.86 1022.02 842.35C1024.49 842.85 1026.96 843.34 1029.44 843.82C1031.92 844.31 1034.40 844.78 1036.88 845.25C1039.35 845.72 1041.84 846.18 1044.32 846.64C1046.80 847.09 1049.28 847.54 1051.77 847.98C1054.25 848.42 1056.74 848.86 1059.22 849.28C1061.71 849.71 1064.20 850.13 1066.69 850.55C1069.18 850.96 1071.67 851.37 1074.16 851.77C1076.65 852.17 1079.14 852.56 1081.64 852.95C1084.13 853.34 1086.63 853.72 1089.12 854.10C1091.62 854.48 1094.12 854.85 1096.61 855.21C1099.11 855.58 1101.61 855.94 1104.11 856.29C1106.61 856.64 1109.11 856.99 1111.61 857.33C1114.11 857.68 1116.62 858.01 1119.12 858.34C1121.62 858.68 1124.13 859.00 1126.63 859.32C1129.14 859.65 1131.64 859.96 1134.15 860.28C1136.65 860.59 1139.16 860.89 1141.67 861.20C1144.17 861.50 1146.68 861.80 1149.19 862.09C1151.70 862.39 1154.21 862.68 1156.72 862.96C1159.23 863.25 1161.74 863.53 1164.25 863.80C1166.76 864.08 1169.27 864.35 1171.78 864.62C1174.29 864.89 1176.81 865.16 1179.32 865.42C1181.83 865.68 1184.34 865.94 1186.86 866.19C1189.37 866.45 1191.88 866.70 1194.40 866.95C1196.91 867.20 1199.43 867.44 1201.94 867.68C1204.45 867.93 1206.97 868.17 1209.48 868.40C1212.00 868.64 1214.51 868.87 1217.03 869.10C1219.54 869.33 1222.06 869.56 1224.57 869.79C1227.09 870.01 1229.60 870.24 1232.12 870.46C1234.63 870.68 1237.15 870.90 1239.66 871.12C1242.18 871.33 1244.69 871.55 1247.21 871.76C1249.72 871.98 1252.23 872.19 1254.75 872.40C1257.26 872.61 1259.78 872.81 1262.29 873.02C1264.81 873.23 1267.32 873.43 1269.83 873.64C1272.35 873.84 1274.86 874.05 1277.37 874.25C1279.89 874.45 1282.40 874.65 1284.91 874.85C1287.42 875.05 1289.94 875.25 1292.45 875.45C1294.96 875.65 1297.47 875.84 1299.98 876.04"/>
</g>
<g class="tick" text-anchor="end">
<text x="149.5" y="920.00">0</text>
<text x="149.5" y="832.50">0.2</text>
<text x="149.5" y="747.70">0.4</text>
<text x="149.5" y="663.00">0.6</text>
<text x="149.5" y="577.60">0.8</text>
<text x="149.5" y="492.90">1</text>
<text x="149.5" y="406.60">1.2</text>
<text x="149.5" y="321.80">1.4</text>
<text x="149.5" y="236.80">1.6</text>
<text x="149.5" y="151.50">1.8</text>
<text x="149.5" y="66.40">2</text>
</g>
<g class="tick" text-anchor="middle">
<text x="196.30" y="982.2">0</text>
<text x="442.70" y="982.2">0.01</text>
<text x="689.50" y="982.2">0.02</text>
<text x="936.20" y="982.2">0.03</text>
<text x="1184.60" y="982.2">0.04</text>
</g>
<text class="title" y="1069.0"><tspan x="496.1" textLength="300.9" lengthAdjust="spacing">Displacement</tspan> <tspan x="812.9" textLength="119.6" lengthAdjust="spacing">(mm)</tspan></text>
<text class="title" transform="translate(56.6 722.4) rotate(-90)"><tspan x="0" textLength="198.3" lengthAdjust="spacing">Reaction</tspan> <tspan x="210.7">force</tspan> <tspan x="336.4" textLength="113.2" lengthAdjust="spacing">(KN)</tspan></text>
<g class="key">
<line x1="1380.7" y1="328.60" x2="1461.1" y2="328.60" stroke="#FF0000"/>
<text class="leg" x="1469.2" y="345.40">lc 0.1 mm</text>
<line x1="1380.7" y1="435.90" x2="1461.1" y2="435.90" stroke="#00B050"/>
<text class="leg" x="1469.2" y="452.60">lc 0.15 mm</text>
<line x1="1380.7" y1="543.20" x2="1461.1" y2="543.20" stroke="#0F9ED5"/>
<text class="leg" x="1469.2" y="560.10">lc 0.175 mm</text>
<line x1="1380.7" y1="650.10" x2="1461.1" y2="650.10" stroke="#A02B93"/>
<text class="leg" x="1469.2" y="665.30">lc 0.2 mm</text>
</g>
</svg>
</body>
</html>
